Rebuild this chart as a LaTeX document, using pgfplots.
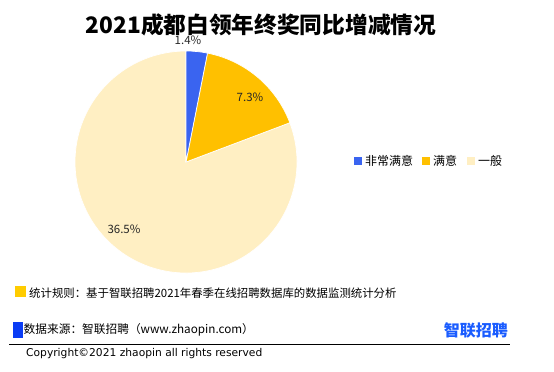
\documentclass[border=0pt]{standalone}
\usepackage{pgfplots}
\pgfplotsset{compat=1.18}
\usepackage{fontspec}
\setmainfont{Noto Sans CJK SC}
\newfontfamily\latinf{DejaVu Sans}
\definecolor{c1}{HTML}{3A64F0}
\definecolor{c2}{HTML}{FFC000}
\definecolor{c3}{HTML}{FFEFC3}
\definecolor{fy}{HTML}{FFCC00}
\definecolor{fb}{HTML}{0A3CF5}
\definecolor{logo}{HTML}{1A5CFF}
\begin{document}
\begin{tikzpicture}
\useasboundingbox (0,0) rectangle (554pt,-372pt);
% values (%)
\def\va{1.4}\def\vb{7.3}\def\vc{36.5}
\pgfmathsetmacro\tot{\va+\vb+\vc}
\pgfmathsetmacro\aA{90-360*\va/\tot}
\pgfmathsetmacro\aB{\aA-360*\vb/\tot}
\pgfmathsetmacro\aC{\aB-360*\vc/\tot}
\begin{axis}[at={(186pt,-162pt)}, anchor=center, scale only axis,
  width=222pt, height=222pt, xmin=-1, xmax=1, ymin=-1, ymax=1,
  hide axis, clip=false]
\fill[c3, draw=white, line width=0.7pt] (axis cs:0,0) -- ++(\aB:111pt) arc[start angle=\aB, end angle=\aC, radius=111pt] -- cycle;
\fill[c2, draw=white, line width=0.7pt] (axis cs:0,0) -- ++(\aA:111pt) arc[start angle=\aA, end angle=\aB, radius=111pt] -- cycle;
\fill[c1, draw=white, line width=0.7pt] (axis cs:0,0) -- ++(90:111pt) arc[start angle=90, end angle=\aA, radius=111pt] -- cycle;
\end{axis}
\node[font=\fontsize{11.5}{13}\selectfont, text=black!85] at (188pt,-40pt) {1.4\%};
\node[font=\fontsize{11.5}{13}\selectfont, text=black!85] at (250pt,-97pt) {7.3\%};
\node[font=\fontsize{11.5}{13}\selectfont, text=black!85] at (124pt,-229pt) {36.5\%};
% title
\node[font=\bfseries\fontsize{22.7}{26}\selectfont, anchor=center] at (261pt,-25pt) {2021成都白领年终奖同比增减情况};
% legend
\fill[c1] (354pt,-157pt) rectangle (362pt,-165pt);
\node[anchor=west, inner sep=0pt, font=\fontsize{12}{14}\selectfont] at (365pt,-161pt) {非常满意};
\fill[c2] (422pt,-157pt) rectangle (430pt,-165pt);
\node[anchor=west, inner sep=0pt, font=\fontsize{12}{14}\selectfont] at (433pt,-161pt) {满意};
\fill[c3] (467pt,-157pt) rectangle (475pt,-165pt);
\node[anchor=west, inner sep=0pt, font=\fontsize{12}{14}\selectfont] at (478pt,-161pt) {一般};
% footer
\fill[fy] (15pt,-286pt) rectangle (26pt,-297pt);
\node[anchor=west, inner sep=0pt, font=\fontsize{11.4}{13}\selectfont] at (29pt,-293pt) {统计规则：基于智联招聘2021年春季在线招聘数据库的数据监测统计分析};
\fill[fb] (13pt,-322pt) rectangle (23pt,-338pt);
\node[anchor=west, inner sep=0pt, font=\fontsize{11.7}{14}\selectfont] at (23.5pt,-330pt) {数据来源：智联招聘（www.zhaopin.com）};
\node[anchor=east, inner sep=0pt, font=\bfseries\fontsize{16}{18}\selectfont, text=logo] at (508pt,-330pt) {智联招聘};
\draw[line width=0.9pt] (9pt,-344.5pt) -- (510pt,-344.5pt);
\node[anchor=west, inner sep=0pt, font=\latinf\fontsize{10.7}{12}\selectfont] at (26pt,-354pt) {Copyright©2021 zhaopin all rights reserved};
\end{tikzpicture}
\end{document}
